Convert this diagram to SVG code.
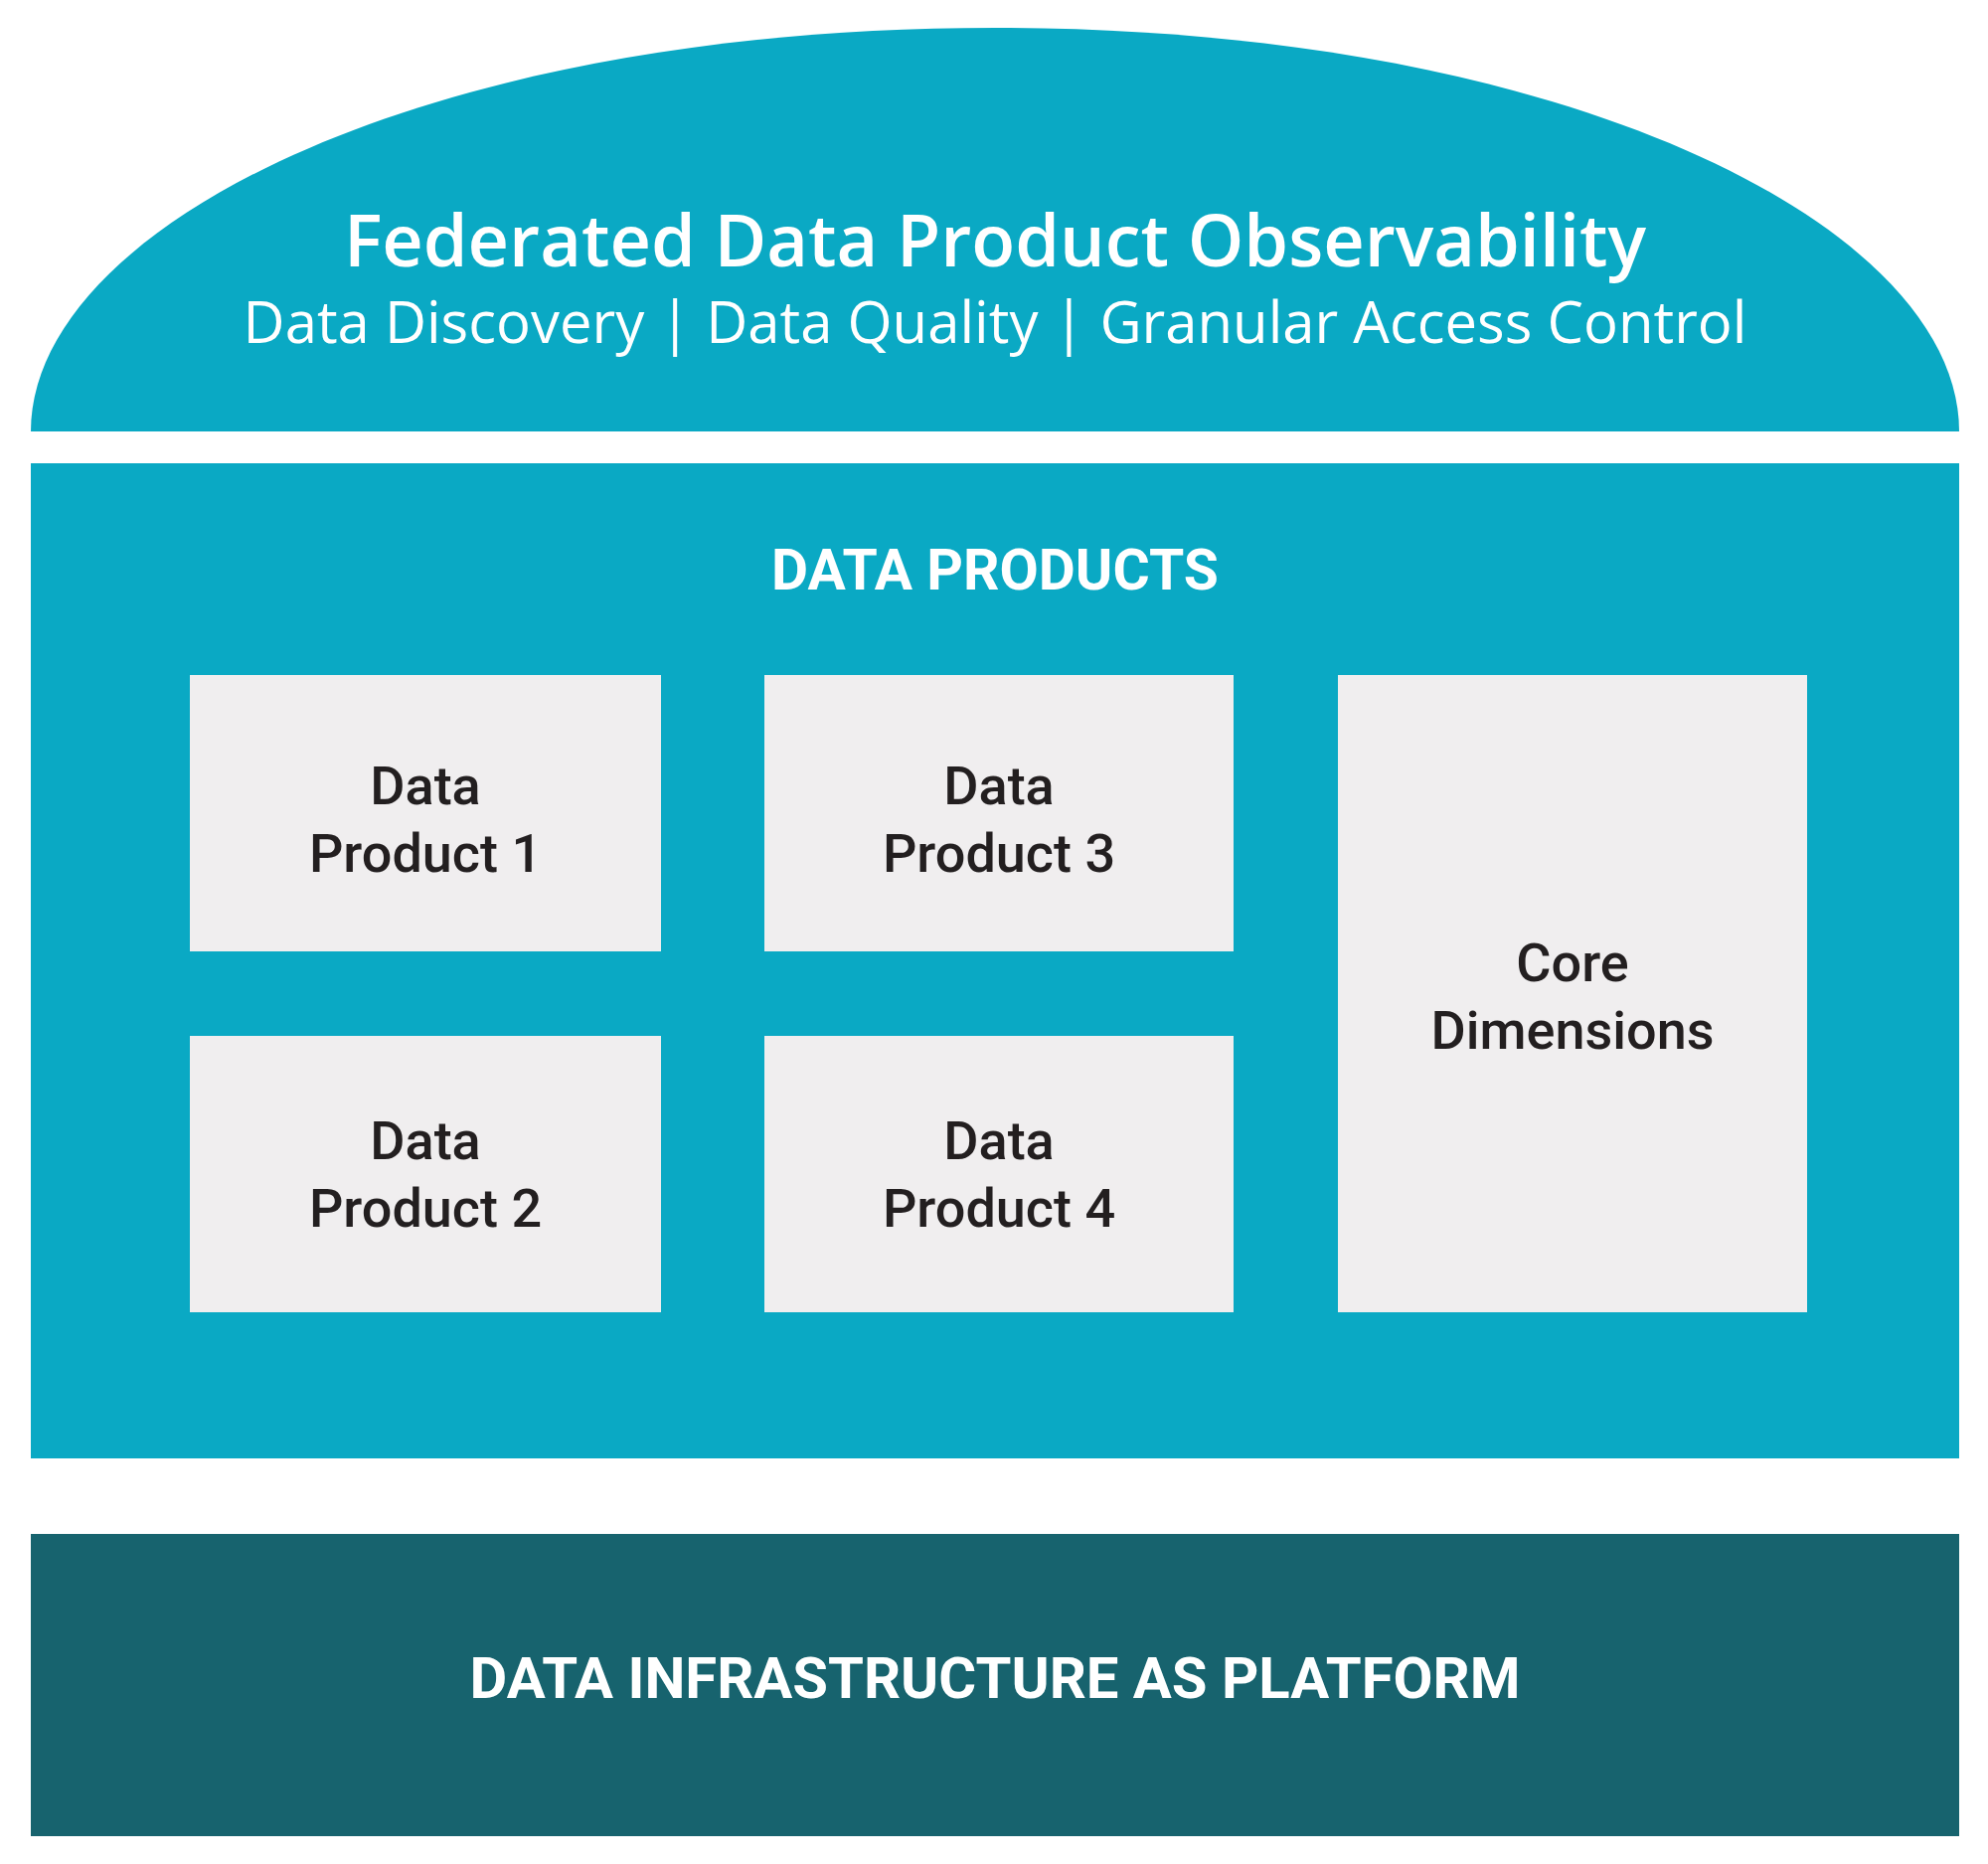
<svg xmlns="http://www.w3.org/2000/svg" width="2000" height="1875" viewBox="0 0 2000 1875">
<style>
.box{fill:#F0EEEF}
.bt{font-family:Roboto,"Liberation Sans",sans-serif;font-weight:500;font-size:54px;fill:#231F20;text-anchor:middle}
.wt{font-family:Roboto,"Liberation Sans",sans-serif;font-weight:700;fill:#fff;text-anchor:middle}
</style>
<rect width="2000" height="1875" fill="#fff"/>
<g id="observability">
<path d="M31 434 C31 230 420 28 1001 28 C1582 28 1971 230 1971 434 Z" fill="#0AA9C4"/>
<text x="1001" y="268" font-family="'Open Sans','Noto Sans',sans-serif" font-size="72" font-weight="600" fill="#fff" text-anchor="middle">Federated Data Product Observability</text>
<text x="1001" y="345" font-family="'Open Sans','Noto Sans',sans-serif" font-size="58" fill="#fff" text-anchor="middle">Data Discovery | Data Quality | Granular Access Control</text>
</g>
<g id="data-products">
<rect x="31" y="466" width="1940" height="1001" fill="#0AA9C4"/>
<text class="wt" x="1001" y="593" font-size="57">DATA PRODUCTS</text>
</g>
<g id="dp1"><rect class="box" x="191" y="679" width="474" height="278"/><text class="bt" x="428" y="809">Data</text><text class="bt" x="428" y="877">Product 1</text></g>
<g id="dp3"><rect class="box" x="769" y="679" width="472" height="278"/><text class="bt" x="1005" y="809">Data</text><text class="bt" x="1005" y="877">Product 3</text></g>
<g id="dp2"><rect class="box" x="191" y="1042" width="474" height="278"/><text class="bt" x="428" y="1166">Data</text><text class="bt" x="428" y="1234">Product 2</text></g>
<g id="dp4"><rect class="box" x="769" y="1042" width="472" height="278"/><text class="bt" x="1005" y="1166">Data</text><text class="bt" x="1005" y="1234">Product 4</text></g>
<g id="core"><rect class="box" x="1346" y="679" width="472" height="641"/><text class="bt" x="1582" y="987">Core</text><text class="bt" x="1582" y="1055">Dimensions</text></g>
<g id="infrastructure">
<rect x="31" y="1543" width="1940" height="304" fill="#17636E"/>
<text class="wt" x="1001" y="1708" font-size="58">DATA INFRASTRUCTURE AS PLATFORM</text>
</g>
<g id="connectors"/>
</svg>
